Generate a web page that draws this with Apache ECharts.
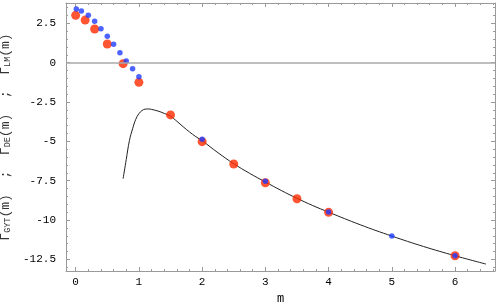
<!DOCTYPE html>
<html>
<head>
<meta charset="utf-8">
<script src="https://cdn.jsdelivr.net/npm/echarts@6/dist/echarts.min.js"></script>
<style>
html,body{margin:0;padding:0;background:#fff;}
#chart{width:498px;height:308px;}
</style>
</head>
<body>
<div id="chart"></div>
<script>
// Red points (large)
const redM = [0, 0.15, 0.3, 0.5, 0.75, 1, 1.5, 2, 2.5, 3, 3.5, 4, 6];
const redV = [3.01, 2.71, 2.14, 1.19, -0.06, -1.25, -3.32, -5.02, -6.44, -7.63, -8.65, -9.51, -12.27];
// Blue points (small)
const blueM = [0.01, 0.09, 0.2, 0.3, 0.4, 0.5, 0.6, 0.7, 0.8, 0.9, 1, 2, 3, 4, 5, 6];
const blueV = [3.41, 3.29, 3.01, 2.63, 2.16, 1.68, 1.17, 0.64, 0.11, -0.38, -0.89, -4.87, -7.54, -9.49, -11.02, -12.27];
// Curve (black line)
const curveM = [0.75, 0.8, 0.85, 0.9, 0.95, 1.0, 1.05, 1.1, 1.15, 1.2, 1.3, 1.4, 1.5, 1.6, 1.7, 1.8, 1.9, 2.0, 2.25, 2.5, 2.75, 3.0, 3.25, 3.5, 3.75, 4.0, 4.5, 5.0, 5.5, 6.0, 6.49];
const curveV = [-7.37, -6.15, -4.95, -4.2, -3.6, -3.24, -3.04, -2.95, -2.94, -2.97, -3.07, -3.22, -3.4, -3.72, -4.07, -4.4, -4.7, -4.96, -5.72, -6.42, -7.03, -7.58, -8.12, -8.62, -9.08, -9.5, -10.3, -11.02, -11.68, -12.27, -12.8];

const xRange = [-0.153, 6.632];
const yRange = [-13.24, 3.795];
const xMajor = 1, xMinor = 0.2, yMajor = 2.5, yMinor = 0.5;

const FRAME = '#9a9a9a';
const MONO = '"Liberation Mono", "DejaVu Sans Mono", monospace';

function xAx(pos, step, major, extra) {
  return Object.assign({
    type: 'value', position: pos, min: xRange[0], max: xRange[1],
    minInterval: step, maxInterval: step, splitNumber: 7,
    axisLine: { show: major, onZero: false, lineStyle: { color: FRAME, width: 1 } },
    axisTick: { show: true, inside: true, length: major ? 4 : 2, lineStyle: { color: FRAME } },
    axisLabel: { show: false },
    splitLine: { show: false }
  }, extra || {});
}
function yAx(pos, step, major, extra) {
  return Object.assign({
    type: 'value', position: pos, min: yRange[0], max: yRange[1],
    minInterval: step, maxInterval: step, splitNumber: 7,
    axisLine: { show: major, onZero: false, lineStyle: { color: FRAME, width: 1 } },
    axisTick: { show: true, inside: true, length: major ? 4 : 2, lineStyle: { color: FRAME } },
    axisLabel: { show: false },
    splitLine: { show: false }
  }, extra || {});
}

const chart = echarts.init(document.getElementById('chart'), null, { renderer: 'canvas' });
chart.setOption({
  animation: false,
  backgroundColor: '#fff',
  grid: { left: 66, right: 3, top: 3, bottom: 37, containLabel: false, outerBoundsMode: 'none' },
  xAxis: [
    xAx('bottom', xMajor, true, {
      axisLabel: { show: true, fontFamily: MONO, fontSize: 11, color: '#000', margin: 6, showMinLabel: false, showMaxLabel: false },
      name: 'm', nameLocation: 'middle', nameGap: 19,
      nameTextStyle: { fontFamily: MONO, fontSize: 12, color: '#000' }
    }),
    xAx('bottom', xMinor, false),
    xAx('top', xMajor, true),
    xAx('top', xMinor, false)
  ],
  yAxis: [
    yAx('left', yMajor, true, {
      axisLabel: { show: true, fontFamily: MONO, fontSize: 11, color: '#000', margin: 10, showMinLabel: false, showMaxLabel: false },
      name: '{g|Γ}{s|GYT}{t|(m)  ;  }{g|Γ}{s|DE}{t|(m)  ;  }{g|Γ}{s|LM}{t|(m)}',
      nameLocation: 'middle', nameRotate: 90, nameGap: 47,
      nameTextStyle: {
        color: '#333',
        rich: {
          g: { fontFamily: MONO, fontSize: 13, color: '#333' },
          s: { fontFamily: MONO, fontSize: 8.5, color: '#333', verticalAlign: 'bottom', padding: [4, 0, 0, 0] },
          t: { fontFamily: MONO, fontSize: 13, color: '#333' }
        }
      }
    }),
    yAx('left', yMinor, false),
    yAx('right', yMajor, true),
    yAx('right', yMinor, false)
  ],
  series: [
    {
      type: 'line', xAxisIndex: 0, yAxisIndex: 0,
      data: curveM.map((m, i) => [m, curveV[i]]),
      smooth: 0.4, showSymbol: false, symbol: 'none',
      lineStyle: { color: '#222', width: 1 },
      z: 2,
      markLine: {
        silent: true, symbol: 'none', label: { show: false },
        lineStyle: { color: '#a8a8a8', width: 1.5, type: 'solid' },
        data: [{ yAxis: 0 }]
      }
    },
    {
      type: 'scatter', xAxisIndex: 0, yAxisIndex: 0,
      data: redM.map((m, i) => [m, redV[i]]),
      symbol: 'circle', symbolSize: 9,
      itemStyle: { color: '#ff2a00' },
      z: 3
    },
    {
      type: 'scatter', xAxisIndex: 0, yAxisIndex: 0,
      data: blueM.map((m, i) => [m, blueV[i]]),
      symbol: 'circle', symbolSize: 5.5,
      itemStyle: { color: '#1f3cff' },
      z: 4
    }
  ]
});
</script>
</body>
</html>
